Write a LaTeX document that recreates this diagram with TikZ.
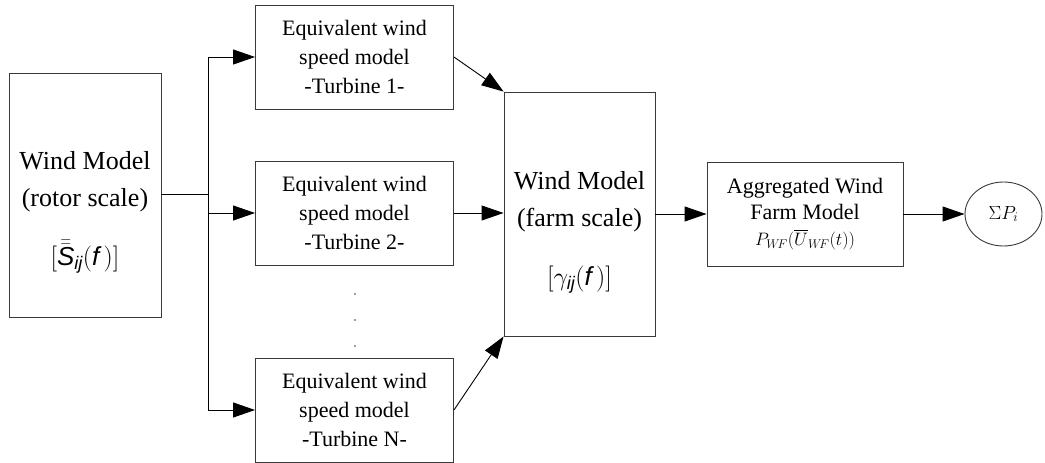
\RequirePackage{fix-cm}
\documentclass[tikz,border=0pt]{standalone}
\usepackage{fontspec}
\setmainfont{Liberation Serif}
\setsansfont{Liberation Sans}
\usepackage{amsmath}
\usetikzlibrary{arrows.meta, positioning, shapes.geometric}
\definecolor{edge}{HTML}{3A3A3A}
\newcommand{\ssi}[1]{\text{\sffamily\itshape #1}}
\tikzset{
  box/.style={draw=edge, line width=0.9pt, fill=white, align=center, inner sep=0pt,
              font=\fontsize{22}{29}\selectfont},
  bigbox/.style={box, minimum width=151pt, minimum height=244pt},
  turb/.style={box, minimum width=198pt, minimum height=104pt},
  bigtxt/.style={align=center, font=\fontsize{26}{37}\selectfont},
  flow/.style={-{Triangle[length=22pt,width=15pt]}, line width=0.9pt, color=black},
  wire/.style={line width=0.9pt, color=black},
}
\begin{document}
\begin{tikzpicture}[x=1pt,y=-1pt]
\useasboundingbox (0,0) rectangle (1045,463);
\node[bigbox,minimum width=152pt] (rotor) at (85,195) {};
\node[bigtxt] (rotor-txt) at (85,212) {Wind Model\\(rotor scale)\\[22pt]$[\bar{\bar{\ssi{S}}}_{\ssi{ij}}(\ssi{f}\,)]$};
\node[turb] (t1) at (354.5,57) {Equivalent wind\\speed model\\-Turbine 1-};
\node[turb] (t2) at (354.5,213) {Equivalent wind\\speed model\\-Turbine 2-};
\node[turb] (tN) at (354.5,410) {Equivalent wind\\speed model\\-Turbine N-};
\foreach \y in {294,320,346} \fill[edge] (355,\y) circle (0.8pt);
\node[bigbox] (farm) at (579.5,214) {};
\node[bigtxt] (farm-txt) at (579.5,232) {Wind Model\\(farm scale)\\[22pt]$[\gamma_{\ssi{ij}}(\ssi{f}\,)]$};
\node[box,minimum width=196pt,minimum height=104pt,font=\fontsize{22}{26}\selectfont] (agg) at (805,214)
  {Aggregated Wind\\Farm Model\\{\fontsize{18}{21}\selectfont$P_{W\!F}(\overline{U}_{W\!F}(t))$}};
\node[draw=edge,line width=0.9pt,ellipse,minimum width=77pt,minimum height=64pt,inner sep=0pt] (sum) at (1003.5,214)
  {\fontsize{19}{21}\selectfont$\Sigma P_i$};
% splitting the rotor-scale wind field
\coordinate (split) at (208,194);
\draw[wire] (rotor.east |- split) -- (split);
\draw[flow] (split) |- (t1);
\draw[flow] (split) |- (t2);
\draw[flow] (split) |- (tN);
\draw[flow] (t1.east) -- (farm.north west);
\draw[flow] (t2.east) -- (t2.east -| farm.west);
\draw[flow] (tN.east) -- (farm.south west);
\draw[flow] (farm) -- (agg);
\draw[flow] (agg) -- (sum);
\end{tikzpicture}
\end{document}
